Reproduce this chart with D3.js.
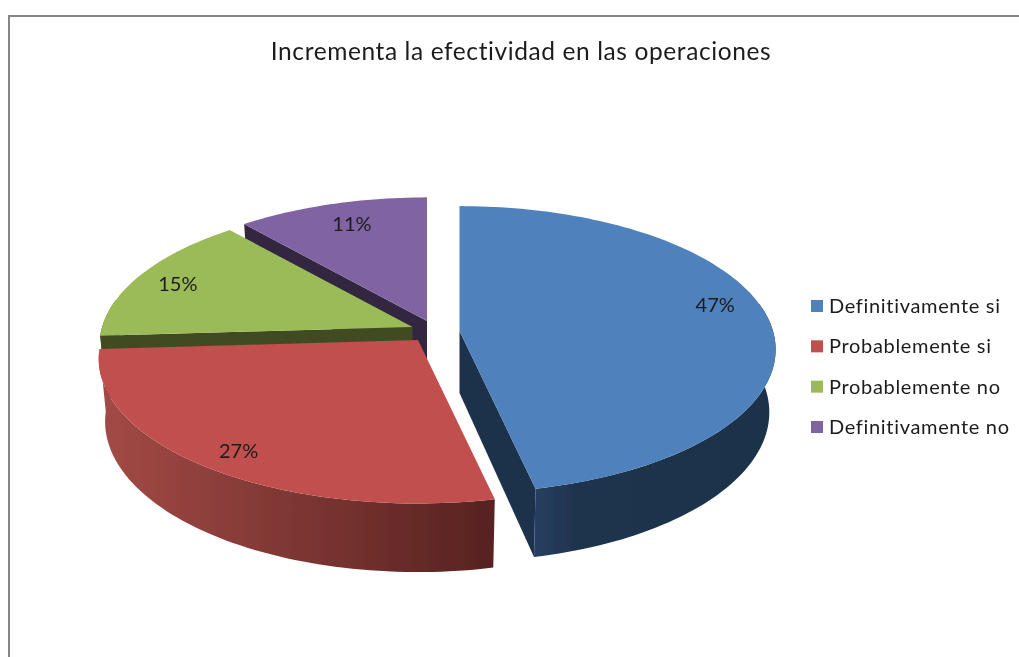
<!DOCTYPE html>
<html><head><meta charset="utf-8">
<script src="https://cdn.jsdelivr.net/npm/d3@7"></script>
<style>html,body{margin:0;padding:0;background:#fff;overflow:hidden}svg{display:block}text{font-family:Lato,"Open Sans",sans-serif;fill:#1c1c1c}</style>
</head><body><svg id="c" width="1019" height="657"></svg>
<script>
const title = "Incrementa la efectividad en las operaciones";
const categories = ["Definitivamente si","Probablemente si","Probablemente no","Definitivamente no"];
const values = [46.6,27.4,14.8,11.2];
const labels = ["47%","27%","15%","11%"];
const topColors = ["#4f81bd","#c0504d","#9bbb59","#8064a2"];
const wallColors = ["#1e334c","#5a2321","#3f4c24","#33283f"];
const gradStops = [[[0,"#283f60"],[.17,"#1f344e"],[1,"#1e334a"]],[[0,"#a34a46"],[1,"#572220"]],[[0,"#3f4c24"],[1,"#3f4c24"]],[[0,"#33283f"],[1,"#33283f"]]];
const apexes = [[459.5,331],[418,340],[412.5,327],[427,321]];
const scales = [1,1.01,.99,.99];
const labelShift = [[9,-14],[-13,12],[-15,-1],[3,-1]];
const hiddenRadial = [[false,false],[true,true],[false,true],[false,true]];

const svg = d3.select("#c");
const R = 313.5, K = 141, P = 0.129, DEPTH = 62, SHRINK_X = 0.98, STRETCH_Y = 1.04;
function proj(u,v){const d=1+P*v;return [R*u/d,-K*v/d];}
const pie = d3.pie().sort(null).value(d=>d);
const arcs = pie(values);
function pt(i,a,f=1,lower=false){
  const [x,y]=proj(f*Math.sin(a),f*Math.cos(a));
  const s=scales[i];
  return [apexes[i][0]+x*s*(lower?SHRINK_X:1), apexes[i][1]+y*s*(lower?STRETCH_Y:1)+(lower?DEPTH:0)];
}
const line=d3.line();
const defs=svg.append("defs");
defs.append("filter").attr("id","soft").attr("x",0).attr("y",0).attr("width","100%").attr("height","100%")
  .append("feGaussianBlur").attr("stdDeviation",0.45);
gradStops.forEach((g,i)=>{
  const lg=defs.append("linearGradient").attr("id","w"+i);
  g.forEach(s=>lg.append("stop").attr("offset",s[0]).attr("stop-color",s[1]));
});
const root=svg.append("g").attr("filter","url(#soft)");
root.append("rect").attr("width",1019).attr("height",657).attr("fill","#fff");
root.append("path").attr("fill","none").attr("stroke","#868686").attr("stroke-width",2)
  .attr("d",line([[9,657],[9,16],[1019,16]]));
root.append("text").attr("x",521).attr("y",60).attr("text-anchor","middle")
  .attr("font-size",24.5).attr("letter-spacing",0.6).text(title);

function arcPts(i,a0,a1,lower){
  const n=Math.max(2,Math.ceil((a1-a0)*40));
  return d3.range(n+1).map(k=>pt(i,a0+(a1-a0)*k/n,1,lower));
}
// back to front: purple, green, blue, red
[3,2,0,1].forEach(i=>{
  const {startAngle:a0,endAngle:a1}=arcs[i];
  const g=root.append("g");
  const wall=(pts,fill)=>g.append("path").attr("d",line(pts)+"Z").attr("fill",fill);
  const A=pt(i,0,0),AL=pt(i,0,0,true);
  if(!hiddenRadial[i][0]) wall([A,pt(i,a0),pt(i,a0,1,true),AL],wallColors[i]);
  if(!hiddenRadial[i][1]) wall([A,pt(i,a1),pt(i,a1,1,true),AL],wallColors[i]);
  const f0=Math.max(a0,Math.PI/2-0.2), f1=Math.min(a1,3*Math.PI/2+0.2);
  if(f1>f0){
    const up=arcPts(i,f0,f1,false), lo=arcPts(i,f0,f1,true).reverse();
    wall(up.concat(lo),`url(#w${i})`);
  }
  g.append("path").attr("fill",topColors[i])
    .attr("d",line([A].concat(arcPts(i,a0,a1,false)))+"Z");
});
arcs.forEach((d,i)=>{
  const m=(d.startAngle+d.endAngle)/2, p=pt(i,m,.8);
  root.append("text").attr("x",p[0]+labelShift[i][0]).attr("y",p[1]+labelShift[i][1]+7)
    .attr("text-anchor","middle").attr("font-size",20).text(labels[i]);
});
const ly=d3.scalePoint().domain(categories).range([306,427]);
categories.forEach((c,i)=>{
  root.append("rect").attr("x",811).attr("y",ly(c)-6).attr("width",12).attr("height",12).attr("fill",topColors[i]);
  root.append("text").attr("x",829).attr("y",ly(c)+7).attr("font-size",20).attr("letter-spacing",0.67).text(c);
});
</script></body></html>
